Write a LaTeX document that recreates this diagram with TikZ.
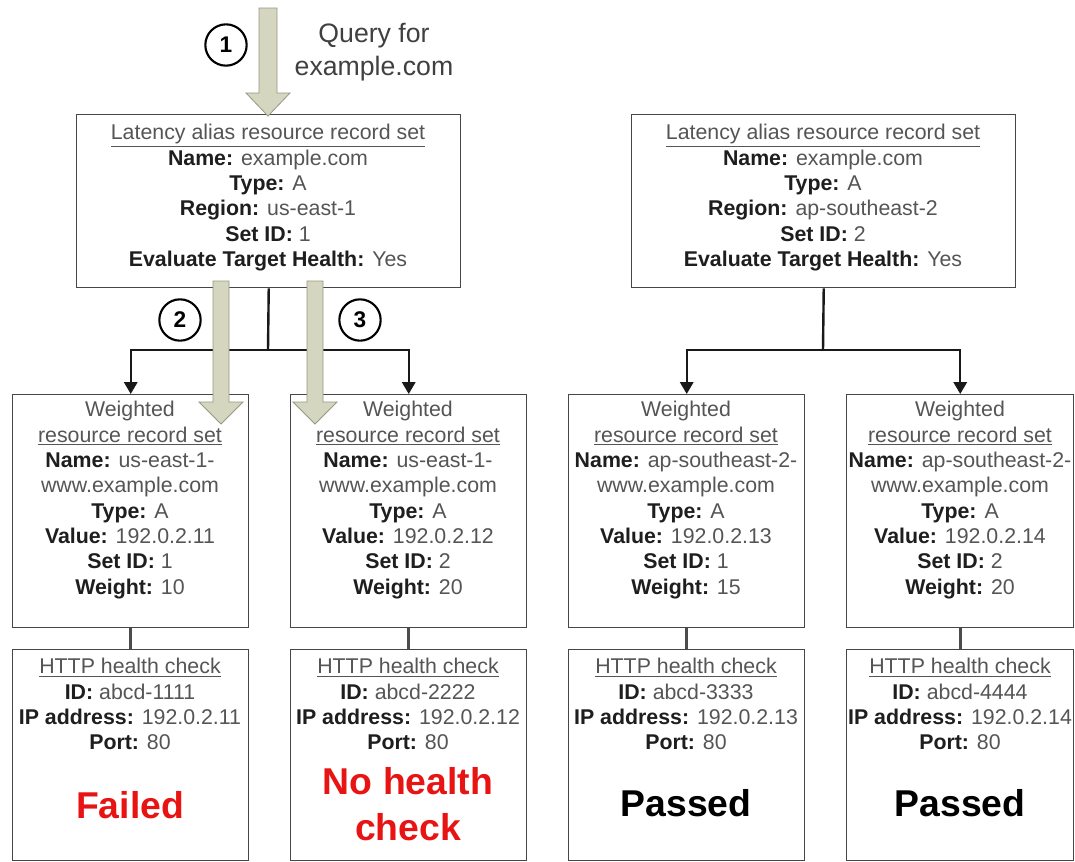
\documentclass[tikz,border=0pt]{standalone}
\usepackage{fontspec}
\setmainfont{Liberation Sans}
\usetikzlibrary{arrows.meta}
\definecolor{labc}{RGB}{30,30,30}
\definecolor{valc}{RGB}{85,85,85}
\definecolor{boxc}{RGB}{70,70,70}
\definecolor{arrfill}{RGB}{212,214,192}
\definecolor{arrdraw}{RGB}{150,152,130}
\definecolor{failc}{RGB}{232,20,20}
\newcommand\lbl[1]{{\bfseries\color{labc}#1}}
\begin{document}
\begin{tikzpicture}[x=0.75pt,y=-0.75pt,
 box/.style={draw=boxc,line width=1.1pt,inner sep=0pt,anchor=north west},
 txt/.style={align=center,inner sep=0pt,anchor=north,text=valc,font=\fontsize{16}{19}\selectfont},
 big/.style={align=center,inner sep=0pt,font=\fontsize{28}{34}\selectfont\bfseries},
 conn/.style={draw=black!90,line width=1.8pt},
 conna/.style={conn,-{Triangle[width=10pt,length=9pt]}},
 hconn/.style={draw=black!70,line width=2.2pt},
 blk/.style={fill=arrfill,draw=arrdraw,line width=0.6pt,line join=miter},
 num/.style={circle,draw=black,line width=1.6pt,minimum size=31pt,inner sep=0pt,font=\fontsize{17}{17}\selectfont\bfseries}
]
\useasboundingbox (0,0) rectangle (1075,861);
\fill[white] (0,0) rectangle (1075,861);

% top boxes
\node[box,minimum width=288pt,minimum height=129.75pt] (tl) at (76,114) {};
\node[box,minimum width=288pt,minimum height=129.75pt] (tr) at (631,114) {};
\node[txt] (tlt) at (268,124) {\underline{Latency alias resource record set}\\
\lbl{Name:} example.com\\ \lbl{Type:} A\\ \lbl{Region:} us-east-1\\ \lbl{Set ID:} 1\\ \lbl{Evaluate Target Health:} Yes};
\node[txt] (trt) at (823,124) {\underline{Latency alias resource record set}\\
\lbl{Name:} example.com\\ \lbl{Type:} A\\ \lbl{Region:} ap-southeast-2\\ \lbl{Set ID:} 2\\ \lbl{Evaluate Target Health:} Yes};

% weighted boxes
\node[box,minimum width=177pt,minimum height=174.75pt] (w1) at (12,394) {};
\node[box,minimum width=177pt,minimum height=174.75pt] (w2) at (290,394) {};
\node[box,minimum width=177pt,minimum height=174.75pt] (w3) at (568,394) {};
\node[box,minimum width=170.25pt,minimum height=174.75pt] (w4) at (846,394) {};
\node[txt] (w1t) at (130,401) {Weighted\\ \underline{resource record set}\\ \lbl{Name:} us-east-1-\\ www.example.com\\ \lbl{Type:} A\\ \lbl{Value:} 192.0.2.11\\ \lbl{Set ID:} 1\\ \lbl{Weight:} 10};
\node[txt] (w2t) at (408,401) {Weighted\\ \underline{resource record set}\\ \lbl{Name:} us-east-1-\\ www.example.com\\ \lbl{Type:} A\\ \lbl{Value:} 192.0.2.12\\ \lbl{Set ID:} 2\\ \lbl{Weight:} 20};
\node[txt] (w3t) at (686,401) {Weighted\\ \underline{resource record set}\\ \lbl{Name:} ap-southeast-2-\\ www.example.com\\ \lbl{Type:} A\\ \lbl{Value:} 192.0.2.13\\ \lbl{Set ID:} 1\\ \lbl{Weight:} 15};
\node[txt] (w4t) at (960,401) {Weighted\\ \underline{resource record set}\\ \lbl{Name:} ap-southeast-2-\\ www.example.com\\ \lbl{Type:} A\\ \lbl{Value:} 192.0.2.14\\ \lbl{Set ID:} 2\\ \lbl{Weight:} 20};

% health boxes
\node[box,minimum width=177pt,minimum height=158.25pt] (h1) at (12,649) {};
\node[box,minimum width=177pt,minimum height=158.25pt] (h2) at (290,649) {};
\node[box,minimum width=177pt,minimum height=158.25pt] (h3) at (568,649) {};
\node[box,minimum width=170.25pt,minimum height=158.25pt] (h4) at (846,649) {};
\node[txt] (h1t) at (130,658) {\underline{HTTP health check}\\ \lbl{ID:} abcd-1111\\ \lbl{IP address:} 192.0.2.11\\ \lbl{Port:} 80};
\node[txt] (h2t) at (408,658) {\underline{HTTP health check}\\ \lbl{ID:} abcd-2222\\ \lbl{IP address:} 192.0.2.12\\ \lbl{Port:} 80};
\node[txt] (h3t) at (686,658) {\underline{HTTP health check}\\ \lbl{ID:} abcd-3333\\ \lbl{IP address:} 192.0.2.13\\ \lbl{Port:} 80};
\node[txt] (h4t) at (960,658) {\underline{HTTP health check}\\ \lbl{ID:} abcd-4444\\ \lbl{IP address:} 192.0.2.14\\ \lbl{Port:} 80};
\node[big,text=failc] (s1) at (130,805) {Failed};
\node[big,text=failc] (s2) at (408,804) {No health\\check};
\node[big,text=black] (s3) at (686,803) {Passed};
\node[big,text=black] (s4) at (960,803) {Passed};

% connectors
\coordinate (jl) at (268,350);
\coordinate (jr) at (823,350);
\draw[conn] (tl.south) -- (jl);
\draw[conna] (jl) -| (w1.north);
\draw[conna] (jl) -| (w2.north);
\draw[conn] (tr.south) -- (jr);
\draw[conna] (jr) -| (w3.north);
\draw[conna] (jr) -| (w4.north);
\draw[hconn] (w1.south) -- (h1.north);
\draw[hconn] (w2.south) -- (h2.north);
\draw[hconn] (w3.south) -- (h3.north);
\draw[hconn] (w4.south) -- (h4.north);

% query block arrows
\draw[blk] (259,8) -- (277,8) -- (277,93) -- (290,93) -- (268,116) -- (246,93) -- (259,93) -- cycle;
\draw[blk] (213,281) -- (229,281) -- (229,402) -- (243,402) -- (221,424) -- (199,402) -- (213,402) -- cycle;
\draw[blk] (307,281) -- (323,281) -- (323,402) -- (337,402) -- (315,424) -- (293,402) -- (307,402) -- cycle;

% step numbers and query label
\node[num] (n1) at (226,45) {1};
\node[num] (n2) at (180,320) {2};
\node[num] (n3) at (360,320) {3};
\node[align=center,inner sep=0pt,text=black!75,font=\fontsize{20}{25}\selectfont] (q) at (374,52) {Query for\\example.com};
\end{tikzpicture}
\end{document}
